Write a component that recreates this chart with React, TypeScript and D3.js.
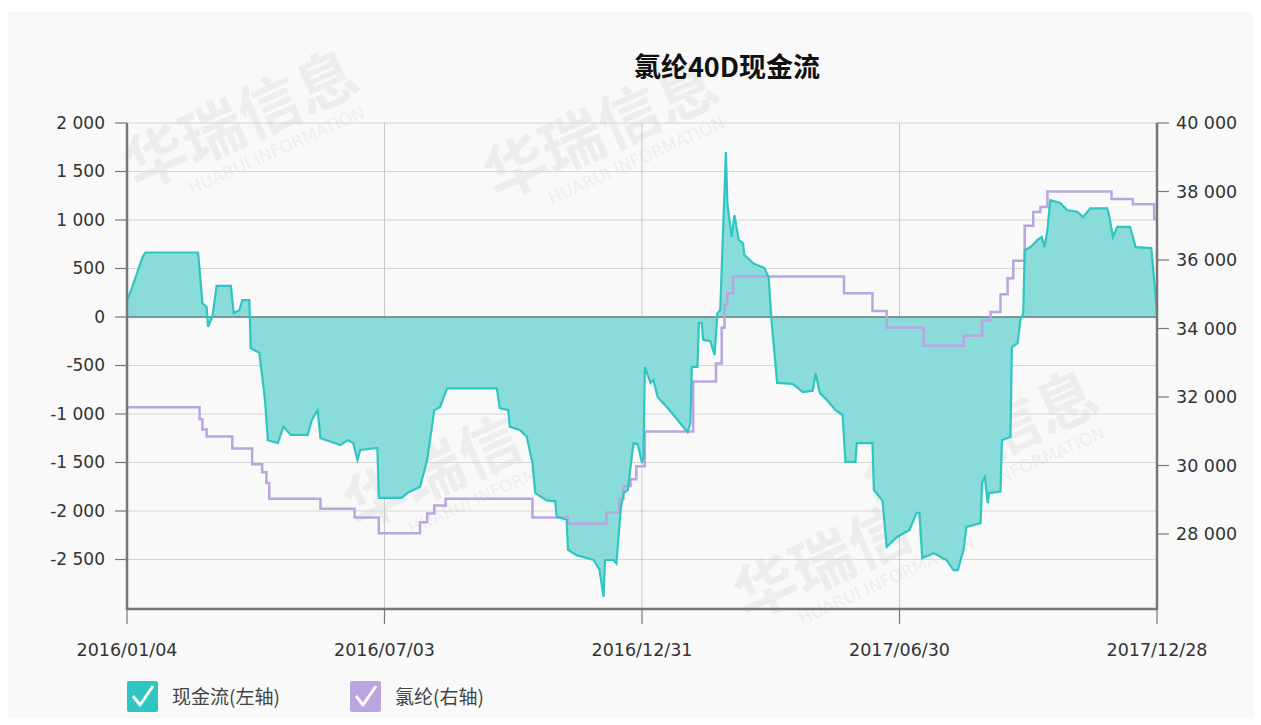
import { useEffect, useRef } from 'react';
import * as d3 from 'd3';

const chartTitle = '氯纶40D现金流';
const legendLabels = ['现金流(左轴)', '氯纶(右轴)'];
const xTickLabels = ['2016/01/04', '2016/07/03', '2016/12/31', '2017/06/30', '2017/12/28'];
const leftTicks = [2000, 1500, 1000, 500, 0, -500, -1000, -1500, -2000, -2500];
const rightTicks = [40000, 38000, 36000, 34000, 32000, 30000, 28000];

// 现金流 (left axis)
const cashDates = [
	'2016/01/04', '2016/01/07', '2016/01/11', '2016/01/15', '2016/01/17', '2016/02/23', '2016/02/26', '2016/02/29',
	'2016/03/01', '2016/03/04', '2016/03/07', '2016/03/17', '2016/03/19', '2016/03/23', '2016/03/25', '2016/03/30',
	'2016/03/31', '2016/04/06', '2016/04/10', '2016/04/12', '2016/04/19', '2016/04/23', '2016/04/28', '2016/05/10',
	'2016/05/13', '2016/05/17', '2016/05/19', '2016/06/02', '2016/06/07', '2016/06/11', '2016/06/14', '2016/06/16',
	'2016/06/28', '2016/06/29', '2016/07/15', '2016/07/19', '2016/07/28', '2016/08/02', '2016/08/07', '2016/08/11',
	'2016/08/16', '2016/09/20', '2016/09/22', '2016/09/28', '2016/09/29', '2016/10/06', '2016/10/11', '2016/10/15',
	'2016/10/17', '2016/10/25', '2016/10/31', '2016/11/01', '2016/11/08', '2016/11/09', '2016/11/15', '2016/11/27',
	'2016/12/01', '2016/12/04', '2016/12/05', '2016/12/11', '2016/12/13', '2016/12/16', '2016/12/18', '2016/12/21',
	'2016/12/25', '2016/12/28', '2016/12/31', '2017/01/01', '2017/01/02', '2017/01/06', '2017/01/08', '2017/01/11',
	'2017/01/15', '2017/01/21', '2017/02/01', '2017/02/03', '2017/02/04', '2017/02/08', '2017/02/09', '2017/02/11',
	'2017/02/12', '2017/02/17', '2017/02/20', '2017/02/22', '2017/02/24', '2017/02/26', '2017/02/28', '2017/03/01',
	'2017/03/04', '2017/03/06', '2017/03/09', '2017/03/12', '2017/03/13', '2017/03/19', '2017/03/27', '2017/03/30',
	'2017/04/01', '2017/04/05', '2017/04/16', '2017/04/23', '2017/04/30', '2017/05/02', '2017/05/05', '2017/05/10',
	'2017/05/16', '2017/05/21', '2017/05/23', '2017/05/30', '2017/05/31', '2017/06/11', '2017/06/12', '2017/06/18',
	'2017/06/21', '2017/06/28', '2017/07/07', '2017/07/12', '2017/07/14', '2017/07/16', '2017/07/24', '2017/08/02',
	'2017/08/07', '2017/08/10', '2017/08/14', '2017/08/16', '2017/08/26', '2017/08/27', '2017/08/29', '2017/08/31',
	'2017/09/01', '2017/09/09', '2017/09/10', '2017/09/16', '2017/09/17', '2017/09/21', '2017/09/23', '2017/09/25',
	'2017/09/26', '2017/09/30', '2017/10/05', '2017/10/08', '2017/10/10', '2017/10/12', '2017/10/14', '2017/10/21',
	'2017/10/26', '2017/11/02', '2017/11/06', '2017/11/11', '2017/11/23', '2017/11/25', '2017/11/27', '2017/11/30',
	'2017/12/09', '2017/12/13', '2017/12/24', '2017/12/28',
];
const cashValues = [
	175, 280, 450, 620, 665, 665, 145, 100,
	-100, 0, 320, 320, 40, 70, 175, 175,
	-320, -370, -855, -1270, -1300, -1130, -1215, -1215,
	-1060, -960, -1250, -1320, -1270, -1300, -1475, -1370,
	-1350, -1865, -1865, -1815, -1750, -1475, -960, -930,
	-735, -735, -940, -960, -1130, -1165, -1235, -1505,
	-1815, -1890, -1900, -2060, -2090, -2400, -2455, -2505,
	-2600, -2885, -2505, -2505, -2540, -1990, -1815, -1785,
	-1300, -1310, -1505, -1450, -515, -680, -650, -825,
	-890, -990, -1185, -1100, -515, -515, -60, -60,
	-235, -250, -390, 40, 72, 900, 1700, 1175,
	825, 1050, 795, 760, 640, 555, 505, 412,
	-30, -680, -690, -775, -760, -580, -785, -855,
	-960, -1010, -1495, -1495, -1300, -1300, -1785, -1890,
	-2370, -2270, -2195, -2020, -2020, -2485, -2435, -2505,
	-2610, -2610, -2400, -2165, -2125, -1710, -1650, -1920,
	-1815, -1800, -1270, -1235, -310, -270, -30, 40,
	690, 720, 795, 825, 720, 900, 1205, 1175,
	1100, 1085, 1030, 1120, 1120, 1000, 825, 930,
	930, 720, 710, 50,
];

// 氯纶 price (right axis)
const priceDates = [
	'2016/01/04', '2016/02/24', '2016/02/26', '2016/02/29', '2016/03/18', '2016/04/01', '2016/04/08', '2016/04/11',
	'2016/04/13', '2016/05/19', '2016/06/12', '2016/06/29', '2016/07/28', '2016/08/02', '2016/08/07', '2016/08/15',
	'2016/10/15', '2016/11/09', '2016/12/06', '2016/12/15', '2016/12/18', '2016/12/23', '2016/12/27', '2017/01/02',
	'2017/02/05', '2017/02/21', '2017/02/25', '2017/02/27', '2017/03/01', '2017/03/05', '2017/05/22', '2017/06/11',
	'2017/06/21', '2017/07/17', '2017/08/14', '2017/08/27', '2017/09/02', '2017/09/09', '2017/09/14', '2017/09/18',
	'2017/09/26', '2017/10/02', '2017/10/07', '2017/10/12', '2017/11/26', '2017/12/11', '2017/12/26', '2017/12/28',
];
const priceValues = [
	31700, 31350, 31050, 30850, 30500, 30040, 29800, 29490,
	29030, 28740, 28480, 28020, 28340, 28600, 28830, 29030,
	28480, 28310, 28630, 29030, 29400, 29600, 29980, 30990,
	32450, 32980, 34020, 34700, 35030, 35520, 35030, 34510,
	34020, 33500, 33790, 34230, 34480, 35000, 35470, 35980,
	37000, 37400, 37550, 38000, 37780, 37630, 37200, 37200,
];

const W = 1261;
const H = 725;
const TEAL = '#2fc6c1';
const TEAL_FILL = '#8adcdb';
const PURPLE = '#b9a5e0';
const AXIS = '#777';
const FONT = '"DejaVu Sans", sans-serif';
const CJK = '"Noto Sans CJK SC", sans-serif';

const CashFlowChart: React.FC = () => {
	const svgRef = useRef<SVGSVGElement>(null);

	useEffect(() => {
		if (!svgRef.current) return;
		const svg = d3.select(svgRef.current);
		svg.selectAll('*').remove();

		const parse = d3.timeParse('%Y/%m/%d');
		const left = 127;
		const right = 1157;
		const top = 123;
		const bottom = 609;

		const x = d3
			.scaleTime()
			.domain([parse(xTickLabels[0])!, parse(xTickLabels[xTickLabels.length - 1])!])
			.range([left, right]);
		const yL = d3.scaleLinear().domain([-3000, 2000]).range([608, top]);
		const yR = d3.scaleLinear().domain([26000, 40000]).range([602.5, top]);

		const fmt = d3.formatLocale({
			decimal: '.',
			thousands: ' ',
			grouping: [3],
			currency: ['', ''],
			minus: '-',
		}).format(',');

		// panel
		svg.append('rect').attr('width', W).attr('height', H).attr('fill', '#fff');
		svg.append('rect')
			.attr('x', 8)
			.attr('y', 12)
			.attr('width', 1245)
			.attr('height', 706)
			.attr('fill', '#f9f9f9');

		// watermark
		const wm = svg.append('g').attr('pointer-events', 'none');
		const marks: [number, number][] = [
			[250, 140],
			[610, 150],
			[470, 480],
			[990, 460],
			[860, 570],
		];
		marks.forEach(([cx, cy]) => {
			const g = wm.append('g').attr('transform', `translate(${cx},${cy}) rotate(-24)`);
			g.append('text')
				.text('华瑞信息')
				.attr('text-anchor', 'middle')
				.style('font-family', CJK)
				.style('font-weight', 'bold')
				.style('font-size', '62px')
				.attr('fill', '#000')
				.attr('opacity', 0.045);
			g.append('text')
				.text('HUARUI INFORMATION')
				.attr('text-anchor', 'middle')
				.attr('y', 26)
				.attr('x', 20)
				.style('font-family', FONT)
				.style('font-size', '17px')
				.attr('fill', '#000')
				.attr('opacity', 0.045);
		});

		// grid
		svg.append('g')
			.selectAll('line')
			.data(leftTicks)
			.join('line')
			.attr('x1', left)
			.attr('x2', right)
			.attr('y1', (d) => yL(d))
			.attr('y2', (d) => yL(d))
			.attr('stroke', '#d6d6d6')
			.attr('stroke-width', 1);
		svg.append('g')
			.selectAll('line')
			.data(xTickLabels.slice(1, -1))
			.join('line')
			.attr('x1', (d) => x(parse(d)!))
			.attr('x2', (d) => x(parse(d)!))
			.attr('y1', top)
			.attr('y2', bottom)
			.attr('stroke', '#c8c8c8')
			.attr('stroke-width', 1);

		// cash flow area
		const cash = cashDates.map((d, i) => ({ date: parse(d)!, value: cashValues[i] }));
		const area = d3
			.area<{ date: Date; value: number }>()
			.x((d) => x(d.date))
			.y0(yL(0))
			.y1((d) => yL(d.value));
		svg.append('path').datum(cash).attr('d', area).attr('fill', TEAL_FILL);

		// zero line
		svg.append('line')
			.attr('x1', left)
			.attr('x2', right)
			.attr('y1', yL(0))
			.attr('y2', yL(0))
			.attr('stroke', '#5f7f80')
			.attr('stroke-width', 1.5);

		// price line
		const price = priceDates.map((d, i) => ({ date: parse(d)!, value: priceValues[i] }));
		const priceLine = d3
			.line<{ date: Date; value: number }>()
			.curve(d3.curveStepAfter)
			.x((d) => x(d.date))
			.y((d) => yR(d.value));
		svg.append('path')
			.datum(price)
			.attr('d', priceLine)
			.attr('fill', 'none')
			.attr('stroke', PURPLE)
			.attr('stroke-width', 2.5);

		const cashLine = d3
			.line<{ date: Date; value: number }>()
			.x((d) => x(d.date))
			.y((d) => yL(d.value));
		svg.append('path')
			.datum(cash)
			.attr('d', cashLine)
			.attr('fill', 'none')
			.attr('stroke', TEAL)
			.attr('stroke-width', 2.2);

		// axes
		const axes = svg.append('g');
		axes.append('line')
			.attr('x1', left).attr('x2', left)
			.attr('y1', top).attr('y2', bottom + 1)
			.attr('stroke', AXIS).attr('stroke-width', 2.5);
		axes.append('line')
			.attr('x1', right).attr('x2', right)
			.attr('y1', top).attr('y2', bottom + 1)
			.attr('stroke', AXIS).attr('stroke-width', 2.5);
		axes.append('line')
			.attr('x1', left).attr('x2', right + 1)
			.attr('y1', bottom).attr('y2', bottom)
			.attr('stroke', AXIS).attr('stroke-width', 2.5);

		const lt = axes.append('g').selectAll('g').data(leftTicks).join('g');
		lt.append('line')
			.attr('x1', left - 12).attr('x2', left)
			.attr('y1', (d) => yL(d)).attr('y2', (d) => yL(d))
			.attr('stroke', AXIS).attr('stroke-width', 1.2);
		lt.append('text')
			.text((d) => fmt(d))
			.attr('x', left - 22)
			.attr('y', (d) => yL(d))
			.attr('dy', '0.35em')
			.attr('text-anchor', 'end')
			.style('font-family', FONT)
			.style('font-size', '17px')
			.attr('fill', '#333');

		const rt = axes.append('g').selectAll('g').data(rightTicks).join('g');
		rt.append('line')
			.attr('x1', right).attr('x2', right + 12)
			.attr('y1', (d) => yR(d)).attr('y2', (d) => yR(d))
			.attr('stroke', AXIS).attr('stroke-width', 1.2);
		rt.append('text')
			.text((d) => fmt(d))
			.attr('x', right + 19)
			.attr('y', (d) => yR(d))
			.attr('dy', '0.35em')
			.style('font-family', FONT)
			.style('font-size', '17.5px')
			.attr('fill', '#333');

		const bt = axes.append('g').selectAll('g').data(xTickLabels).join('g');
		bt.append('line')
			.attr('x1', (d) => x(parse(d)!)).attr('x2', (d) => x(parse(d)!))
			.attr('y1', bottom).attr('y2', bottom + 15)
			.attr('stroke', AXIS).attr('stroke-width', 1.2);
		bt.append('text')
			.text((d) => d)
			.attr('x', (d) => x(parse(d)!))
			.attr('y', 656)
			.attr('text-anchor', 'middle')
			.style('font-family', FONT)
			.style('font-size', '17.5px')
			.attr('fill', '#333');

		// title
		svg.append('text')
			.text(chartTitle)
			.attr('x', 727)
			.attr('y', 77)
			.attr('text-anchor', 'middle')
			.style('font-family', CJK)
			.style('font-weight', 'bold')
			.style('font-size', '27px')
			.attr('fill', '#111');

		// legend
		const legendColors = [TEAL, PURPLE];
		const legendX = [127, 350];
		legendLabels.forEach((label, i) => {
			const g = svg.append('g').attr('transform', `translate(${legendX[i]},681)`);
			g.append('rect')
				.attr('width', 31)
				.attr('height', 31)
				.attr('rx', 2)
				.attr('fill', legendColors[i]);
			g.append('path')
				.attr('d', 'M6,15 L13,24 L26,5')
				.attr('fill', 'none')
				.attr('stroke', '#fff')
				.attr('stroke-width', 3)
				.attr('stroke-linejoin', 'round');
			g.append('text')
				.text(label)
				.attr('x', 45)
				.attr('y', 23)
				.style('font-family', CJK)
				.style('font-size', '19px')
				.attr('fill', '#444');
		});
	}, []);

	return <svg ref={svgRef} width={W} height={H} style={{ position: 'absolute', left: 0, top: 0 }}></svg>;
};

export default function App() {
	return <CashFlowChart />;
}
